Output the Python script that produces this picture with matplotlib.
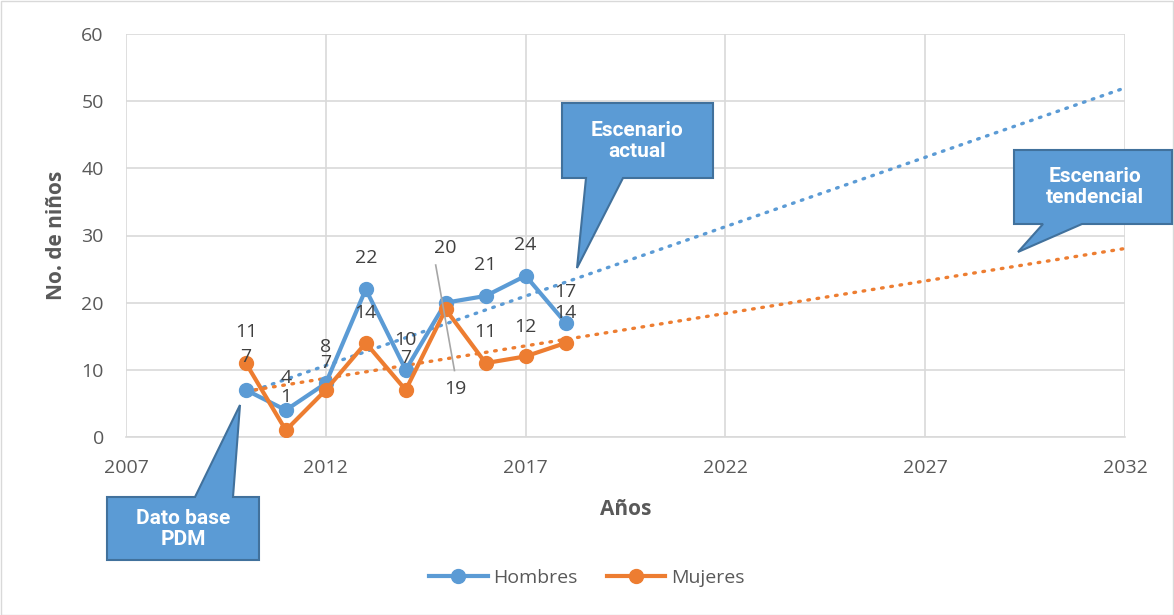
import numpy as np
import matplotlib
matplotlib.use("Agg")
import matplotlib.pyplot as plt
from matplotlib.patches import Polygon, Rectangle

# data
years = [2010, 2011, 2012, 2013, 2014, 2015, 2016, 2017, 2018]
hombres = [7, 4, 8, 22, 10, 20, 21, 24, 17]
mujeres = [11, 1, 7, 14, 7, 19, 11, 12, 14]
forecast_end = 2032

# label positions (data coords) as placed in the original chart
lab_h = [(2010, 11.9), (2011, 8.8), (2012, 13.4), (2013, 26.6), (2014, 14.4),
         (2015, 28.2), (2016, 25.6), (2017, 28.6), (2018, 21.6)]
lab_m = [(2010, 15.6), (2011, 6.0), (2012, 11.0), (2013, 18.5), (2014, 11.8),
         (2015.25, 7.1), (2016, 15.6), (2017, 16.4), (2018, 18.5)]

blue = "#5B9BD5"
orange = "#ED7D31"
txt = "#595959"
font = ["Open Sans", "DejaVu Sans"]
narrow = ["Roboto", "Liberation Sans", "DejaVu Sans"]

W, H = 1174, 615
fig = plt.figure(figsize=(W / 100, H / 100), dpi=100)
ax = fig.add_axes([126 / W, 1 - 437 / H, (1125 - 126) / W, (437 - 34) / H])

ax.plot(years, hombres, color=blue, lw=3, marker="o", ms=10, label="Hombres", zorder=4)
ax.plot(years, mujeres, color=orange, lw=3, marker="o", ms=10, label="Mujeres", zorder=4)

# linear trend lines with forecast
xs = np.array([years[0], forecast_end])
for serie, col in [(hombres, blue), (mujeres, orange)]:
    p = np.polyfit(years, serie, 1)
    ax.plot(xs, np.polyval(p, xs), color=col, lw=2.4, ls=(0, (0.5, 2.3)),
            dash_capstyle="round", zorder=3)

for (x, y), v in zip(lab_h, hombres):
    ax.text(x, y, str(v), ha="center", va="center", fontsize=14, color="#404040",
            family=font, zorder=5)
for (x, y), v in zip(lab_m, mujeres):
    ax.text(x, y, str(v), ha="center", va="center", fontsize=14, color="#404040",
            family=font, zorder=5)
# leader line for the 19 label
ax.plot([2014.75, 2015.22], [25.6, 9.9], color="#A6A6A6", lw=1.2, zorder=5)

ax.set_xlim(2007, 2032)
ax.set_ylim(0, 60)
ax.set_xticks(range(2007, 2033, 5))
ax.set_yticks(range(0, 61, 10))
ax.grid(True, color="#D9D9D9", lw=1.2)
ax.set_axisbelow(True)
for s in ["top", "right", "left"]:
    ax.spines[s].set_visible(False)
ax.spines["bottom"].set_color("#D9D9D9")
ax.spines["bottom"].set_linewidth(1.2)
ax.tick_params(length=0, labelsize=14, colors=txt)
ax.tick_params(axis="x", pad=16)
ax.tick_params(axis="y", pad=16)
for lab in ax.get_xticklabels() + ax.get_yticklabels():
    lab.set_family(font)
ax.set_xlabel("Años", fontsize=15, fontweight="bold", color=txt, family=font, labelpad=16)
ax.set_ylabel("No. de niños", fontsize=15, fontweight="bold", color=txt, family=font, labelpad=10)

leg = fig.legend(loc="center", bbox_to_anchor=(0.5, 1 - 578 / H), ncol=2, frameon=False,
                 prop={"family": font, "size": 14}, handlelength=3, columnspacing=1.5,
                 handletextpad=0.3)
for t in leg.get_texts():
    t.set_color(txt)


def callout(pts, text, tx, ty):
    poly = Polygon([(x / W, 1 - y / H) for x, y in pts], closed=True,
                   transform=fig.transFigure, facecolor=blue, edgecolor="#41719C",
                   lw=1.5, zorder=10)
    fig.add_artist(poly)
    fig.text(tx / W, 1 - ty / H, text, ha="center", va="center", color="white",
             fontsize=15, fontweight="bold", family=narrow, linespacing=1.15, zorder=11)


callout([(562, 103), (713, 103), (713, 178), (623, 178), (577, 268), (586, 178), (562, 178)],
        "Escenario\nactual", 637, 141)
callout([(1014, 150), (1172, 150), (1172, 224), (1082, 224), (1018, 252), (1043, 224), (1014, 224)],
        "Escenario\ntendencial", 1095, 187)
callout([(107, 497), (195, 497), (240, 405), (233, 497), (259, 497), (259, 560), (107, 560)],
        "Dato base\nPDM", 183, 529)

fig.add_artist(Rectangle((0.5 / W, 0.5 / H), 1 - 1.5 / W, 1 - 1.5 / H, transform=fig.transFigure,
                         fill=False, edgecolor="#D9D9D9", lw=1))

fig.savefig("out.png", dpi=100)
